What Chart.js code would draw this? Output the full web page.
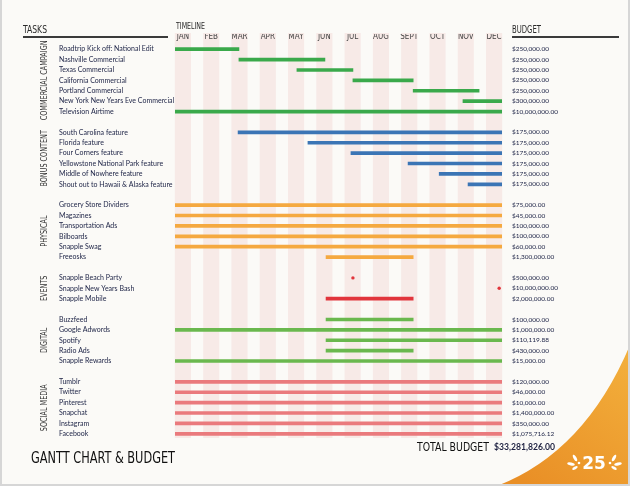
<!DOCTYPE html>
<html>
<head>
<meta charset="utf-8">
<script src="https://cdn.jsdelivr.net/npm/chart.js@4"></script>
<style>
  html, body { margin: 0; padding: 0; background: #fbfaf7; }
  #wrap { width: 630px; height: 486px; }
</style>
</head>
<body>
<div id="wrap"><canvas id="gantt"></canvas></div>
<script>
// month 0 = middle of January ... 11 = middle of December
var months = ["JAN", "FEB", "MAR", "APR", "MAY", "JUN", "JUL", "AUG", "SEPT", "OCT", "NOV", "DEC"];
var groupNames = ["COMMERCIAL CAMPAIGN", "BONUS CONTENT", "PHYSICAL", "EVENTS", "DIGITAL", "SOCIAL MEDIA"];

var commercialTasks = ["Roadtrip Kick off: National Edit", "Nashville Commercial", "Texas Commercial", "California Commercial", "Portland Commercial", "New York New Years Eve Commercial", "Television Airtime"];
var commercialStart = [-0.28, 1.98, 4.03, 6.01, 8.14, 9.9, -0.28];
var commercialEnd = [1.98, 5.02, 6.01, 8.14, 10.47, 11.28, 11.28];
var commercialBudget = ["$250,000.00", "$250,000.00", "$250,000.00", "$250,000.00", "$250,000.00", "$300,000.00", "$10,000,000.00"];

var bonusTasks = ["South Carolina feature", "Florida feature", "Four Corners feature", "Yellowstone National Park feature", "Middle of Nowhere feature", "Shout out to Hawaii & Alaska feature"];
var bonusStart = [1.95, 4.42, 5.94, 7.96, 9.06, 10.08];
var bonusEnd = [11.28, 11.28, 11.28, 11.28, 11.28, 11.28];
var bonusBudget = ["$175,000.00", "$175,000.00", "$175,000.00", "$175,000.00", "$175,000.00", "$175,000.00"];

var physicalTasks = ["Grocery Store Dividers", "Magazines", "Transportation Ads", "Bilboards", "Snapple Swag", "Freeosks"];
var physicalStart = [-0.28, -0.28, -0.28, -0.28, -0.28, 5.06];
var physicalEnd = [11.28, 11.28, 11.28, 11.28, 11.28, 8.14];
var physicalBudget = ["$75,000.00", "$45,000.00", "$100,000.00", "$100,000.00", "$60,000.00", "$1,300,000.00"];

// events without an end are one-day events (drawn as a dot)
var eventTasks = ["Snapple Beach Party", "Snapple New Years Bash", "Snapple Mobile"];
var eventStart = [6.01, 11.18, 5.06];
var eventEnd = [null, null, 8.14];
var eventBudget = ["$500,000.00", "$10,000,000.00", "$2,000,000.00"];

var digitalTasks = ["Buzzfeed", "Google Adwords", "Spotify", "Radio Ads", "Snapple Rewards"];
var digitalStart = [5.06, -0.28, 5.06, 5.06, -0.28];
var digitalEnd = [8.14, 11.28, 11.28, 8.14, 11.28];
var digitalBudget = ["$100,000.00", "$1,000,000.00", "$110,119.88", "$430,000.00", "$15,000.00"];

var socialTasks = ["Tumblr", "Twitter", "Pinterest", "Snapchat", "Instagram", "Facebook"];
var socialStart = [-0.28, -0.28, -0.28, -0.28, -0.28, -0.28];
var socialEnd = [11.28, 11.28, 11.28, 11.28, 11.28, 11.28];
var socialBudget = ["$120,000.00", "$46,000.00", "$10,000.00", "$1,400,000.00", "$350,000.00", "$1,075,716.12"];

var totalBudget = "$33,281,826.00";

var groupList = [
  { name: groupNames[0], tasks: commercialTasks, start: commercialStart, end: commercialEnd, budget: commercialBudget, color: "#3aa94b" },
  { name: groupNames[1], tasks: bonusTasks, start: bonusStart, end: bonusEnd, budget: bonusBudget, color: "#3b75b5" },
  { name: groupNames[2], tasks: physicalTasks, start: physicalStart, end: physicalEnd, budget: physicalBudget, color: "#f5a940" },
  { name: groupNames[3], tasks: eventTasks, start: eventStart, end: eventEnd, budget: eventBudget, color: "#e1353c" },
  { name: groupNames[4], tasks: digitalTasks, start: digitalStart, end: digitalEnd, budget: digitalBudget, color: "#6ab84e" },
  { name: groupNames[5], tasks: socialTasks, start: socialStart, end: socialEnd, budget: socialBudget, color: "#ea7a7d" },
];

// one row per task, an empty row between groups
var rowLabels = [];
var budgetLabels = [];
var groupRows = [];
groupList.forEach(function (g, gi) {
  if (gi > 0) { rowLabels.push(""); budgetLabels.push(""); }
  groupRows.push([rowLabels.length, rowLabels.length + g.tasks.length - 1]);
  g.tasks.forEach(function (t, i) { rowLabels.push(t); budgetLabels.push(g.budget[i]); });
});

var datasets = [];
var dots = new Array(rowLabels.length).fill(null);
groupList.forEach(function (g, gi) {
  var bars = new Array(rowLabels.length).fill(null);
  g.tasks.forEach(function (t, i) {
    var row = groupRows[gi][0] + i;
    if (g.end[i] === null) dots[row] = g.start[i];
    else bars[row] = [g.start[i], g.end[i]];
  });
  datasets.push({
    type: "bar",
    label: g.name,
    data: bars,
    backgroundColor: g.color,
    barThickness: 3,
    borderSkipped: false,
    grouped: false,
  });
});
datasets.push({
  type: "line",
  label: "one-day events",
  data: dots,
  showLine: false,
  pointRadius: 1.7,
  pointBorderWidth: 0,
  pointBackgroundColor: "#e1353c",
});

var handFont = "'DejaVu Sans Condensed', 'Liberation Sans Narrow', 'DejaVu Sans', sans-serif";

// draw text squeezed to a given width
function fitText(ctx, text, x, y, width) {
  var w = ctx.measureText(text).width;
  ctx.save();
  ctx.translate(x, y);
  ctx.scale(Math.min(1, width / w), 1);
  ctx.fillText(text, 0, 0);
  ctx.restore();
}

var decor = {
  id: "decor",
  beforeDraw: function (chart) {
    var ctx = chart.ctx;
    var area = chart.chartArea;
    var x = chart.scales.x;
    ctx.save();
    ctx.fillStyle = "#fbfaf7";
    ctx.fillRect(0, 0, chart.width, chart.height);
    // month stripes
    ctx.fillStyle = "rgba(236, 170, 170, 0.2)";
    months.forEach(function (m, i) {
      var x0 = x.getPixelForValue(i - 0.285);
      var x1 = x.getPixelForValue(i + 0.285);
      ctx.fillRect(x0, area.top - 11, x1 - x0, area.bottom - area.top + 10);
    });
    ctx.restore();
  },
  afterDraw: function (chart) {
    var ctx = chart.ctx;
    var area = chart.chartArea;
    var y = chart.scales.y;
    ctx.save();
    ctx.fillStyle = "#2b2b2b";
    ctx.textBaseline = "alphabetic";
    ctx.font = "10px " + handFont;
    fitText(ctx, "TASKS", 23, 33, 24);
    fitText(ctx, "BUDGET", 512, 33, 29);
    ctx.font = "8px " + handFont;
    fitText(ctx, "TIMELINE", area.left + 1, 29, 29);
    ctx.fillStyle = "#3a3a3a";
    ctx.fillRect(23, 36, 145, 2);
    ctx.fillRect(512, 36, 107, 2);

    // group names, rotated and narrowed
    ctx.fillStyle = "#333";
    ctx.font = "9px " + handFont;
    ctx.textAlign = "center";
    ctx.textBaseline = "middle";
    groupList.forEach(function (g, gi) {
      var yc = (y.getPixelForValue(groupRows[gi][0]) + y.getPixelForValue(groupRows[gi][1])) / 2;
      ctx.save();
      ctx.translate(45, yc);
      ctx.rotate(-Math.PI / 2);
      ctx.scale(0.8, 1);
      ctx.fillText(g.name, 0, 0);
      ctx.restore();
    });

    // title and total
    ctx.textAlign = "left";
    ctx.textBaseline = "alphabetic";
    ctx.fillStyle = "#111";
    ctx.font = "16px " + handFont;
    fitText(ctx, "GANTT CHART & BUDGET", 31, 463, 144);
    ctx.font = "13px " + handFont;
    fitText(ctx, "TOTAL BUDGET", 417, 451, 72);
    ctx.font = "bold 9.5px Lato, sans-serif";
    ctx.fillStyle = "#1d2040";
    fitText(ctx, totalBudget, 494, 450, 61);

    // orange corner
    var grad = ctx.createLinearGradient(630, 350, 530, 486);
    grad.addColorStop(0, "#f3b03c");
    grad.addColorStop(1, "#e98f26");
    ctx.fillStyle = grad;
    ctx.beginPath();
    ctx.moveTo(630, 345);
    ctx.quadraticCurveTo(585, 452, 497, 486);
    ctx.lineTo(630, 486);
    ctx.closePath();
    ctx.fill();

    // 25 badge with leaf sprigs
    ctx.fillStyle = "#ffffff";
    ctx.font = "bold 17px 'DejaVu Sans', sans-serif";
    ctx.textAlign = "center";
    fitText(ctx, "25", 594, 469, 24);
    [[-1, 575], [1, 614]].forEach(function (s) {
      var dir = s[0], cx = s[1];
      var leaves = [
        { dx: 0, dy: -5, rx: 1.5, ry: 3.6, rot: dir * 0.5 },
        { dx: dir * 4, dy: 1, rx: 3.8, ry: 1.5, rot: dir * -0.2 },
        { dx: -dir * 4, dy: 0, rx: 1.3, ry: 1.3, rot: 0 },
        { dx: 0, dy: 5, rx: 3, ry: 1.3, rot: dir * 0.5 },
      ];
      leaves.forEach(function (l) {
        ctx.save();
        ctx.translate(cx + l.dx, 463 + l.dy);
        ctx.rotate(l.rot);
        ctx.beginPath();
        ctx.ellipse(0, 0, l.rx, l.ry, 0, 0, Math.PI * 2);
        ctx.fill();
        ctx.restore();
      });
    });

    // page edge
    ctx.strokeStyle = "#d6d6d6";
    ctx.lineWidth = 2;
    ctx.beginPath();
    ctx.moveTo(1, 0);
    ctx.lineTo(1, 485);
    ctx.lineTo(629, 485);
    ctx.lineTo(629, 0);
    ctx.stroke();
    ctx.restore();
  },
};

var config = {
  type: "bar",
  data: {
    labels: rowLabels,
    datasets: datasets,
  },
  options: {
    indexAxis: "y",
    responsive: true,
    maintainAspectRatio: false,
    animation: false,
    layout: {
      padding: { left: 59, right: 0, top: 34, bottom: 47 },
    },
    scales: {
      x: {
        type: "linear",
        position: "top",
        min: -0.28,
        max: 11.28,
        bounds: "data",
        grid: { display: false, drawTicks: false },
        border: { display: false },
        afterBuildTicks: function (scale) {
          scale.ticks = months.map(function (m, i) { return { value: i }; });
        },
        afterFit: function (scale) { scale.height = 10; },
        ticks: {
          autoSkip: false,
          maxRotation: 0,
          padding: 2,
          color: "#444",
          font: { family: handFont, size: 8 },
          callback: function (value) { return months[value]; },
        },
      },
      y: {
        type: "category",
        position: "left",
        offset: true,
        grid: { display: false, drawTicks: false },
        border: { display: false },
        afterFit: function (scale) { scale.width = 116; },
        ticks: {
          autoSkip: false,
          crossAlign: "far",
          padding: 0,
          color: "#22284a",
          font: { family: "Lato, sans-serif", size: 7 },
        },
      },
      y2: {
        type: "category",
        position: "right",
        labels: budgetLabels,
        offset: true,
        grid: { display: false, drawTicks: false },
        border: { display: false },
        afterFit: function (scale) { scale.width = 128; },
        ticks: {
          autoSkip: false,
          crossAlign: "near",
          padding: 10,
          color: "#22284a",
          font: { family: "Lato, sans-serif", size: 6.5 },
        },
      },
    },
    plugins: {
      legend: { display: false },
      tooltip: { enabled: false },
    },
  },
  plugins: [decor],
};

var gantt = new Chart(document.getElementById("gantt"), config);
</script>
</body>
</html>
